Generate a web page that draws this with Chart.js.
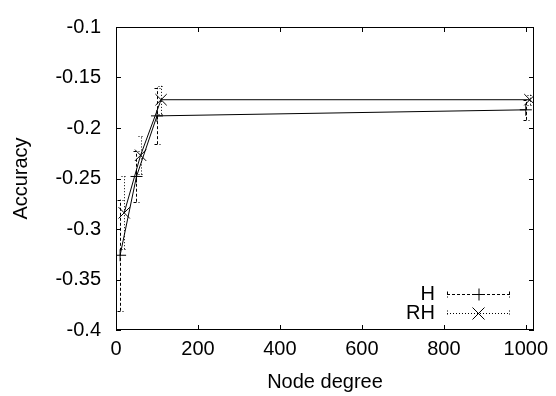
<!DOCTYPE html>
<html>
<head>
<meta charset="utf-8">
<script src="https://cdn.jsdelivr.net/npm/chart.js@4"></script>
<style>
    html, body { margin: 0; padding: 0; background: #fff; }
    #wrap { width: 556px; height: 396px; }
</style>
</head>
<body>
<div id="wrap"><canvas id="chart" width="556" height="396"></canvas></div>
<script>
// Data
const degreeH = [10, 50, 100, 1000];
const accuracyH = [-0.326, -0.248, -0.188, -0.182];
const errorH = [0.055, 0.025, 0.028, 0.01];

const degreeRH = [20, 60, 110, 1010];
const accuracyRH = [-0.284, -0.227, -0.172, -0.172];
const errorRH = [0.036, 0.019, 0.014, 0.005];

const xTicks = [0, 200, 400, 600, 800, 1000];
const seriesNames = ['H', 'RH'];

const FONT = { family: "'Liberation Sans', Arial, sans-serif", size: 20, lineHeight: 1.2 };

function toPoints(xs, ys) {
    return xs.map((x, i) => ({ x: x, y: ys[i] }));
}

// Draw the gnuplot-style frame, inward ticks, error bars and legend
const gnuplotPlugin = {
    id: 'gnuplotStyle',
    beforeDatasetsDraw(chart) {
        const ctx = chart.ctx;
        const a = chart.chartArea;
        const xs = chart.scales.x;
        const ys = chart.scales.y;
        const tick = 5;
        ctx.save();
        ctx.strokeStyle = '#000';
        ctx.lineWidth = 1;
        ctx.strokeRect(a.left + 0.5, a.top + 0.5, a.right - a.left - 1, a.bottom - a.top - 1);
        ctx.beginPath();
        xs.ticks.forEach(t => {
            const px = Math.round(xs.getPixelForValue(t.value)) + 0.5;
            ctx.moveTo(px, a.bottom);
            ctx.lineTo(px, a.bottom - tick);
            ctx.moveTo(px, a.top);
            ctx.lineTo(px, a.top + tick);
        });
        ys.ticks.forEach(t => {
            const py = Math.round(ys.getPixelForValue(t.value)) + 0.5;
            ctx.moveTo(a.left, py);
            ctx.lineTo(a.left + tick, py);
            ctx.moveTo(a.right, py);
            ctx.lineTo(a.right - tick, py);
        });
        ctx.stroke();

        // error bars
        const bars = [
            { xs: degreeH, ys: accuracyH, err: errorH, dash: [3, 2] },
            { xs: degreeRH, ys: accuracyRH, err: errorRH, dash: [1, 2] }
        ];
        bars.forEach(b => {
            ctx.setLineDash(b.dash);
            ctx.beginPath();
            b.xs.forEach((xv, i) => {
                const px = Math.round(xs.getPixelForValue(xv)) + 0.5;
                const y1 = ys.getPixelForValue(b.ys[i] - b.err[i]);
                const y2 = ys.getPixelForValue(b.ys[i] + b.err[i]);
                ctx.moveTo(px, y1);
                ctx.lineTo(px, y2);
                ctx.moveTo(px - 3, Math.round(y1) + 0.5);
                ctx.lineTo(px + 3, Math.round(y1) + 0.5);
                ctx.moveTo(px - 3, Math.round(y2) + 0.5);
                ctx.lineTo(px + 3, Math.round(y2) + 0.5);
            });
            ctx.stroke();
        });
        ctx.setLineDash([]);

        // legend
        const rows = [
            { name: seriesNames[0], dash: [3, 2], style: 'plus' },
            { name: seriesNames[1], dash: [1, 2], style: 'cross' }
        ];
        ctx.font = FONT.size + 'px ' + FONT.family;
        ctx.textAlign = 'right';
        ctx.textBaseline = 'middle';
        ctx.fillStyle = '#000';
        rows.forEach((r, i) => {
            const y = a.bottom - 36 + i * 19 + 0.5;
            const textX = a.right - 99;
            const x1 = a.right - 87;
            const x2 = a.right - 24;
            const mx = (x1 + x2) / 2;
            ctx.fillText(r.name, textX, y);
            ctx.setLineDash(r.dash);
            ctx.beginPath();
            ctx.moveTo(x1, y);
            ctx.lineTo(x2, y);
            ctx.moveTo(x1 + 0.5, y - 3);
            ctx.lineTo(x1 + 0.5, y + 3);
            ctx.moveTo(x2 - 0.5, y - 3);
            ctx.lineTo(x2 - 0.5, y + 3);
            ctx.stroke();
            ctx.setLineDash([]);
            ctx.beginPath();
            if (r.style === 'plus') {
                ctx.moveTo(mx - 6, y);
                ctx.lineTo(mx + 6, y);
                ctx.moveTo(mx + 0.5, y - 6);
                ctx.lineTo(mx + 0.5, y + 6);
            } else {
                ctx.moveTo(mx - 6, y - 6);
                ctx.lineTo(mx + 6, y + 6);
                ctx.moveTo(mx - 6, y + 6);
                ctx.lineTo(mx + 6, y - 6);
            }
            ctx.stroke();
        });
        ctx.restore();
    }
};

const ctx = document.getElementById('chart').getContext('2d');
const chart = new Chart(ctx, {
    type: 'line',
    data: {
        datasets: [{
            label: seriesNames[0],
            data: toPoints(degreeH, accuracyH),
            borderColor: '#000',
            borderWidth: 1,
            pointStyle: 'cross',
            pointRadius: 6,
            pointBorderColor: '#000',
            pointBorderWidth: 1,
            tension: 0,
            fill: false
        }, {
            label: seriesNames[1],
            data: toPoints(degreeRH, accuracyRH),
            borderColor: '#000',
            borderWidth: 1,
            pointStyle: 'crossRot',
            pointRadius: 8,
            pointBorderColor: '#000',
            pointBorderWidth: 1,
            tension: 0,
            fill: false
        }]
    },
    options: {
        responsive: false,
        animation: false,
        layout: { padding: { top: 15, right: 22, left: 0, bottom: 0 } },
        plugins: {
            legend: { display: false },
            tooltip: { enabled: false }
        },
        scales: {
            x: {
                type: 'linear',
                min: 0,
                max: 1020,
                grid: { display: false, drawTicks: false },
                border: { display: false },
                afterBuildTicks: scale => {
                    scale.ticks = xTicks.map(v => ({ value: v }));
                },
                afterFit: scale => { scale.height = 66; },
                ticks: {
                    color: '#000',
                    font: FONT,
                    padding: 7,
                    maxRotation: 0,
                    callback: v => String(v)
                },
                title: {
                    display: true,
                    text: 'Node degree',
                    color: '#000',
                    font: FONT,
                    padding: { top: 0, bottom: 2 }
                }
            },
            y: {
                type: 'linear',
                min: -0.4,
                max: -0.1,
                grid: { display: false, drawTicks: false },
                border: { display: false },
                afterFit: scale => { scale.width = 116; },
                ticks: {
                    stepSize: 0.05,
                    color: '#000',
                    font: FONT,
                    padding: 15,
                    callback: v => String(Number(v.toFixed(2)))
                },
                title: {
                    display: true,
                    text: 'Accuracy',
                    color: '#000',
                    font: FONT,
                    padding: { top: 9, bottom: 0 }
                }
            }
        }
    },
    plugins: [gnuplotPlugin]
});
</script>
</body>
</html>
